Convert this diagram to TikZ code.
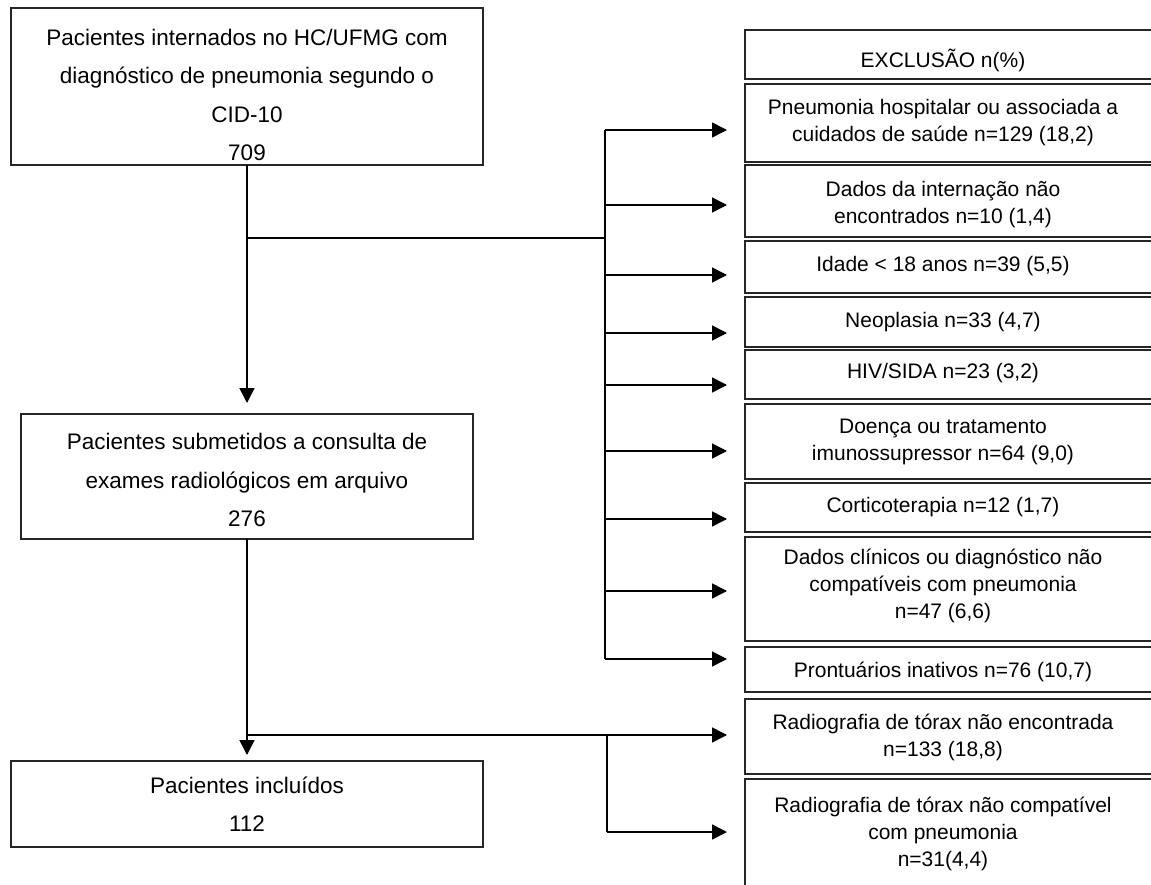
\documentclass[tikz,border=0pt]{standalone}
\usepackage{fontspec}
\setmainfont{Liberation Sans}
\usetikzlibrary{arrows.meta}
\begin{document}
\begin{tikzpicture}[x=1pt,y=-1pt,
  box/.style={draw=black!85, line width=1.3pt, inner sep=0pt, outer sep=0pt, anchor=north west},
  bigtext/.style={align=center, inner sep=0pt, font=\fontsize{22.5}{38.5}\selectfont},
  rtext/.style={align=center, inner sep=0pt, font=\fontsize{21}{27}\selectfont},
  line/.style={draw=black, line width=1.6pt},
  conn/.style={line, -{Triangle[length=15pt,width=15pt]}},
]
\useasboundingbox[fill=white] (0,0) rectangle (1151,885);

% left column
\node[bigtext] (b1t) at (247,95) {Pacientes internados no HC/UFMG com\\diagnóstico de pneumonia segundo o\\CID-10\\709};
\node[box, minimum width=472pt, minimum height=157pt] (b1) at (11,8) {};
\node[box, minimum width=452pt, minimum height=125pt] (b2) at (21,414) {};
\node[bigtext] (b2t) at (247,480) {Pacientes submetidos a consulta de\\exames radiológicos em arquivo\\276};
\node[box, minimum width=472pt, minimum height=86pt] (b3) at (11,761) {};
\node[bigtext] (b3t) at (247,804) {Pacientes incluídos\\112};

% right column
\node[box, minimum width=415pt, minimum height=49pt] (e0) at (745,30) {};
\node[rtext] (e0t) at (943,60) {EXCLUSÃO n(\%)};
\node[box, minimum width=415pt, minimum height=78pt] (e1) at (745,84) {};
\node[rtext] (e1t) at (943,123) {Pneumonia hospitalar ou associada a\\cuidados de saúde n=129 (18,2)};
\node[box, minimum width=415pt, minimum height=72pt] (e2) at (745,165) {};
\node[rtext] (e2t) at (943,205) {Dados da internação não\\encontrados n=10 (1,4)};
\node[box, minimum width=415pt, minimum height=52pt] (e3) at (745,241) {};
\node[rtext] (e3t) at (943,266) {Idade < 18 anos n=39 (5,5)};
\node[box, minimum width=415pt, minimum height=50pt] (e4) at (745,297) {};
\node[rtext] (e4t) at (943,322) {Neoplasia n=33 (4,7)};
\node[box, minimum width=415pt, minimum height=49pt] (e5) at (745,350) {};
\node[rtext] (e5t) at (943,373) {HIV/SIDA n=23 (3,2)};
\node[box, minimum width=415pt, minimum height=75pt] (e6) at (745,404) {};
\node[rtext] (e6t) at (943,442) {Doença ou tratamento\\imunossupressor n=64 (9,0)};
\node[box, minimum width=415pt, minimum height=49pt] (e7) at (745,483) {};
\node[rtext] (e7t) at (943,507) {Corticoterapia n=12 (1,7)};
\node[box, minimum width=415pt, minimum height=104pt] (e8) at (745,537) {};
\node[rtext] (e8t) at (943,586) {Dados clínicos ou diagnóstico não\\compatíveis com pneumonia\\n=47 (6,6)};
\node[box, minimum width=415pt, minimum height=45pt] (e9) at (745,647) {};
\node[rtext] (e9t) at (943,672) {Prontuários inativos n=76 (10,7)};
\node[box, minimum width=415pt, minimum height=75pt] (e10) at (745,699) {};
\node[rtext] (e10t) at (943,737) {Radiografia de tórax não encontrada\\n=133 (18,8)};
\node[box, minimum width=415pt, minimum height=130pt] (e11) at (745,779) {};
\node[rtext] (e11t) at (943,834) {Radiografia de tórax não compatível\\com pneumonia\\n=31(4,4)};

% connectors
\draw[conn, shorten >=11pt] (b1.south) -- (b2.north);
\draw[conn, shorten >=6pt] (b2.south) -- (b3.north);

\coordinate (j1) at (247,238);
\coordinate (k1) at (605,238);
\coordinate (a1) at (605,130);
\coordinate (a2) at (605,205);
\coordinate (a3) at (605,275);
\coordinate (a4) at (605,333);
\coordinate (a5) at (605,385);
\coordinate (a6) at (605,451);
\coordinate (a7) at (605,519);
\coordinate (a8) at (605,591);
\coordinate (a9) at (605,659);
\draw[line] (j1) -- (k1);
\draw[line] (a1) -- (a9);
\foreach \i in {1,...,9} {
  \draw[conn, shorten >=18pt] (a\i) -- (a\i -| e\i.west);
}

\coordinate (j2) at (247,735);
\coordinate (a10) at (607,735);
\coordinate (a11) at (607,832);
\draw[line] (j2) -- (a10) -- (a11);
\draw[conn, shorten >=18pt] (a10) -- (a10 -| e10.west);
\draw[conn, shorten >=18pt] (a11) -- (a11 -| e11.west);
\end{tikzpicture}
\end{document}
